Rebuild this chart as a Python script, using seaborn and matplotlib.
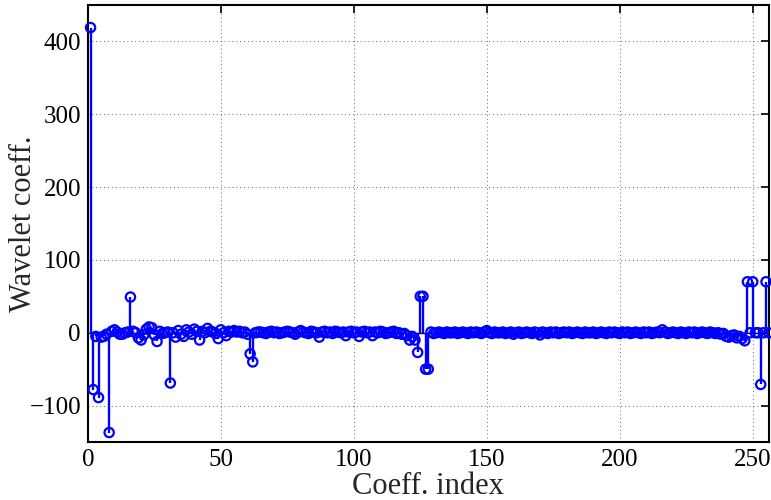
import numpy as np
import pandas as pd
import matplotlib
matplotlib.use("Agg")
import matplotlib.pyplot as plt
import seaborn as sns

# Wavelet coefficients (index 1..256)
coef_001_064 = [419, -78, -5, -89, -6, -5, -2, -137,
                2, 4, 1, -2, -2, 0, 1, 49,
                2, 0, -7, -10, -3, 5, 8, 7, -3, -12, 2, -1, 0, 1, -69, 0,
                -6, 3, -2, -5, 4, 1, -2, 5, 2, -10, 2, 0, 6, 2, 1, -1,
                -8, 4, 0, -4, 2, 1, 3, 1, 2, 0, 1, -2, -29, -40, 0, 1]
coef_065_128 = [1, 0, -1, 1, 2, 0, 1, -1, 0, 1, 2, 1, 0, -2, 1, 3,
                1, 0, -1, 2, 1, 0, -6, 1, 2, 0, 1, -1, 2, 1, 0, 1,
                -4, 1, 2, 0, 1, -5, 1, 2, 0, 1, -4, 1, 0, 2, 1, -1,
                0, 1, 2, -1, 0, -2, -1, -4, -10, -5, -10, -27, 50, 50, -50, -50]
coef_129_256 = [1, -1, 0, 1, 0, -1, 1, 0, 0, 1, -1, 0, 1, 0, -1, 1,
                0, 1, 0, -1, 1, 3, 0, -1, 1, 0, 0, 1, -1, 0, 1, -2,
                0, 1, -1, 0, 1, 0, -1, 1, 0, -3, 1, 0, -1, 1, 0, 1,
                -1, 0, 1, 0, 1, -1, 0, 1, 0, -1, 1, 0, 0, 1, -1, 0,
                1, 0, -1, 1, 0, 1, 0, -1, 1, 0, 1, -1, 0, 1, 0, -1,
                1, 0, 1, -1, 0, 1, 0, 4, 1, -1, 0, 1, 0, -1, 1, 0,
                -1, 1, 0, 1, -1, 0, 1, 0, -1, 1, 0, -1, 0, -2, -1, -5,
                -6, -4, -3, -7, -5, -8, -11, 70, 0, 70, 0, 0, -71, 0, 70, 0]

coef = coef_001_064 + coef_065_128 + coef_129_256
index = list(range(1, len(coef) + 1))

x_ticks = [0, 50, 100, 150, 200, 250]
y_ticks = [-100, 0, 100, 200, 300, 400]
x_label = "Coeff. index"
y_label = "Wavelet coeff."

df = pd.DataFrame({"idx": index, "coef": coef})

sns.set_style("white")
plt.rcParams["font.family"] = ["Liberation Serif", "DejaVu Serif"]

fig = plt.figure(figsize=(7.71, 5.00), dpi=100)
ax = fig.add_axes([0.114, 0.116, 0.883, 0.874])

ax.axhline(0, color="black", lw=1.0, zorder=1)
ax.vlines(df["idx"], 0, df["coef"], color="#0000ff", lw=1.7, zorder=2)
sns.scatterplot(data=df, x="idx", y="coef", ax=ax, marker="o",
                facecolors="none", edgecolor="#0000ff", linewidth=1.6,
                s=45, zorder=3, legend=False, clip_on=False)

ax.set_xlim(0, 256)
ax.set_ylim(-150, 450)
ax.set_xticks(x_ticks)
ax.set_yticks(y_ticks)
ax.grid(True, color="#666666", linestyle=(0, (1, 3)), linewidth=0.7)
ax.set_axisbelow(True)
for s in ax.spines.values():
    s.set_visible(True)
    s.set_color("black")
    s.set_linewidth(1.5)
ax.tick_params(direction="in", length=6, width=1.2, top=True, right=True,
               labelsize=18, colors="black", pad=5)
ax.set_xlabel(x_label, fontsize=22)
ax.set_ylabel(y_label, fontsize=22)
ax.xaxis.set_label_coords(0.5, -0.068)
ax.yaxis.set_label_coords(-0.074, 0.5)

fig.savefig("out.png", dpi=100)
